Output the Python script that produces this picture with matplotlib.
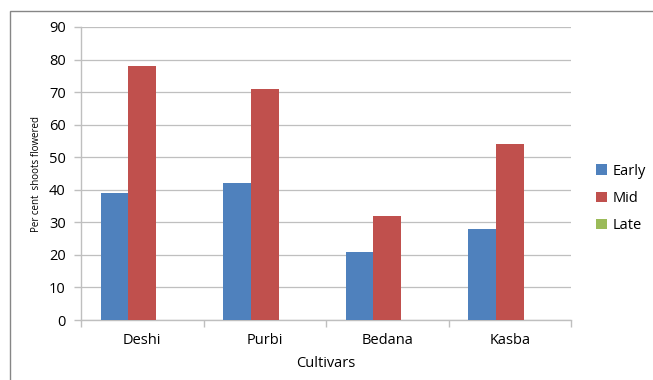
import numpy as np
import matplotlib.pyplot as plt
from matplotlib.patches import Rectangle

# Data
cultivars = ["Deshi", "Purbi", "Bedana", "Kasba"]
early = [39, 42, 21, 28]
mid = [78, 71, 32, 54]
late = [0, 0, 0, 0]
series_names = ["Early", "Mid", "Late"]
colors = ["#4F81BD", "#C0504D", "#9BBB59"]

plt.rcParams['font.family'] = ['Open Sans', 'DejaVu Sans']

fig = plt.figure(figsize=(6.53, 3.80), dpi=100)
ax = fig.add_axes([81 / 653, 1 - 320 / 380, 490 / 653, 293 / 380])

# outer chart frame (only top and left edges visible in the crop)
fig.patches.append(Rectangle((10 / 653, -0.1), 1.2, 1 - 11 / 380 + 0.1,
                             transform=fig.transFigure, fill=False,
                             edgecolor="#868686", linewidth=1.0))

x = np.arange(len(cultivars))
width = 0.225
for i, (vals, name, c) in enumerate(zip([early, mid, late], series_names, colors)):
    ax.bar(x + (i - 1) * width, vals, width, color=c, label=name,
           linewidth=0, zorder=3)

ax.set_xlim(-0.5, len(cultivars) - 0.5)
ax.set_ylim(0, 90)
ax.set_yticks(np.arange(0, 91, 10))
ax.yaxis.grid(True, color="#BFBFBF", linewidth=0.9, zorder=0)

ax.set_xticks(x)
ax.set_xticklabels(cultivars, fontsize=10.5)
ax.set_xticks(np.arange(len(cultivars) + 1) - 0.5, minor=True)
ax.tick_params(axis="x", which="major", length=0, pad=9)
ax.tick_params(axis="x", which="minor", length=5, color="#BFBFBF", width=1)
ax.tick_params(axis="y", length=5, color="#BFBFBF", width=1, labelsize=10.5, pad=6)

for s in ["top", "right"]:
    ax.spines[s].set_visible(False)
for s in ["left", "bottom"]:
    ax.spines[s].set_color("#BFBFBF")
    ax.spines[s].set_linewidth(1)

ax.set_xlabel("Cultivars", fontsize=10.5, labelpad=6)
ax.set_ylabel("Per cent  shoots flowered", fontsize=7, labelpad=5)

ax.legend(loc="center left", bbox_to_anchor=(1.025, 0.415), frameon=False,
          fontsize=10.5, handlelength=0.7, handleheight=0.7, handletextpad=0.4,
          labelspacing=0.85)

fig.savefig("out.png", dpi=100)
